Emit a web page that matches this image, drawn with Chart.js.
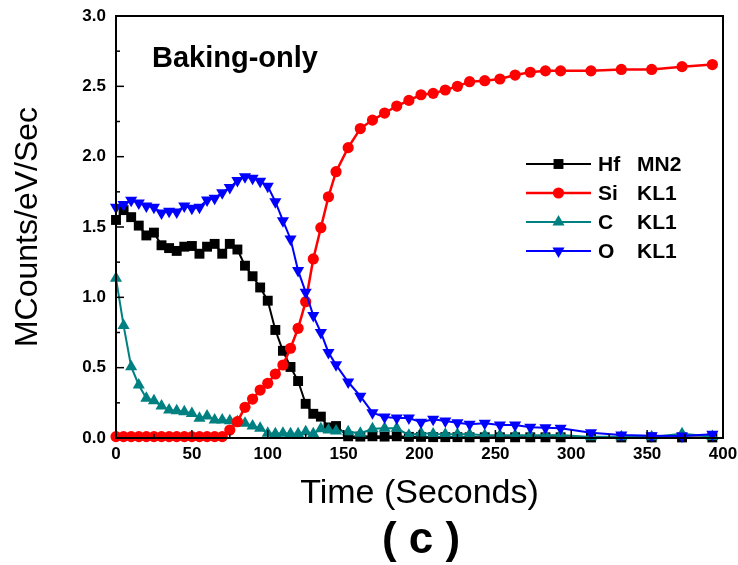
<!DOCTYPE html>
<html>
<head>
<meta charset="utf-8">
<script src="https://cdn.jsdelivr.net/npm/chart.js@4.4.0/dist/chart.umd.min.js"></script>
<style>
  html, body { margin: 0; padding: 0; background: #fff; }
</style>
</head>
<body>
<canvas id="perfil" width="738" height="565"></canvas>
<script>
// tempo de sputtering (s)
const timeSec = [0, 5, 10, 15, 20, 25, 30, 35, 40, 45, 50, 55, 60, 65, 70, 75, 80, 85, 90, 95,
  100, 105, 110, 115, 120, 125, 130, 135, 140, 145, 153, 161, 169, 177, 185, 193, 201, 209, 217, 225,
  233, 243, 253, 263, 273, 283, 293, 313, 333, 353, 373, 393];

const hfMN2 = [1.55, 1.62, 1.57, 1.51, 1.44, 1.46, 1.37, 1.35, 1.33, 1.36, 1.365, 1.31, 1.36, 1.38, 1.31, 1.38, 1.34, 1.225, 1.15, 1.07,
  0.976, 0.768, 0.62, 0.505, 0.405, 0.243, 0.172, 0.152, 0.075, 0.085, 0.012, 0.01, 0.012, 0.01, 0.012, 0.008, 0.008, 0.006, 0.006, 0.006,
  0.005, 0.005, 0.005, 0.005, 0.005, 0.005, 0.005, 0.004, 0.004, 0.004, 0.004, 0.004];

const siKL1 = [0.01, 0.01, 0.01, 0.01, 0.01, 0.01, 0.01, 0.01, 0.01, 0.01, 0.01, 0.01, 0.01, 0.01, 0.01, 0.057, 0.116, 0.218, 0.277, 0.341,
  0.389, 0.455, 0.519, 0.638, 0.78, 0.969, 1.273, 1.495, 1.715, 1.893, 2.064, 2.20, 2.26, 2.31, 2.36, 2.40, 2.44, 2.45, 2.474, 2.50,
  2.533, 2.54, 2.552, 2.58, 2.60, 2.61, 2.61, 2.61, 2.62, 2.62, 2.64, 2.655];

const cKL1 = [1.135, 0.80, 0.507, 0.377, 0.282, 0.265, 0.227, 0.199, 0.194, 0.187, 0.175, 0.14, 0.156, 0.128, 0.128, 0.123, 0.116, 0.104, 0.085, 0.069,
  0.033, 0.03, 0.033, 0.03, 0.03, 0.045, 0.03, 0.065, 0.057, 0.05, 0.045, 0.033, 0.065, 0.069, 0.069, 0.02, 0.035, 0.028, 0.026, 0.026,
  0.026, 0.02, 0.02, 0.02, 0.02, 0.02, 0.022, 0.008, 0.008, 0.008, 0.03, 0.01];

const oKL1 = [1.64, 1.66, 1.69, 1.67, 1.65, 1.64, 1.60, 1.612, 1.607, 1.65, 1.633, 1.64, 1.692, 1.704, 1.744, 1.78, 1.83, 1.858, 1.846, 1.826,
  1.79, 1.68, 1.545, 1.415, 1.19, 1.037, 0.87, 0.75, 0.608, 0.52, 0.398, 0.297, 0.18, 0.149, 0.142, 0.142, 0.112, 0.133, 0.121, 0.109,
  0.097, 0.104, 0.092, 0.092, 0.076, 0.073, 0.069, 0.038, 0.021, 0.016, 0.014, 0.026];

const serieLabels = ['Hf  MN2', 'Si  KL1', 'C   KL1', 'O   KL1'];
const xRange = [0, 400];
const yRange = [0, 3];

const FONTE = "Arial, 'Liberation Sans', sans-serif";
Chart.defaults.font.family = FONTE;
Chart.defaults.color = '#000';

const pontos = (serie) => timeSec.map((t, i) => ({ x: t, y: serie[i] }));

function serie(label, dados, cor, estilo, raio, rot, ordem, largura) {
    return {
        label: label,
        data: pontos(dados),
        borderColor: cor,
        backgroundColor: cor,
        borderWidth: largura,
        pointStyle: estilo,
        pointRotation: rot,
        pointRadius: raio,
        pointHoverRadius: raio,
        pointBorderWidth: 0,
        tension: 0,
        clip: false,
        order: ordem
    };
}

// moldura + ticks para dentro
const moldura = {
    id: 'moldura',
    afterDraw(chart) {
        const { ctx, chartArea: a, scales: { x, y } } = chart;
        const linha = (x1, y1, x2, y2) => { ctx.beginPath(); ctx.moveTo(x1, y1); ctx.lineTo(x2, y2); ctx.stroke(); };
        ctx.save();
        ctx.strokeStyle = '#000';
        ctx.lineWidth = 1.5;
        const xt = x.ticks.map(t => t.value);
        xt.forEach((v, i) => {
            const px = x.getPixelForValue(v);
            linha(px, a.bottom, px, a.bottom - 8);
            if (i < xt.length - 1) {
                const m = x.getPixelForValue((v + xt[i + 1]) / 2);
                linha(m, a.bottom, m, a.bottom - 4);
            }
        });
        const yt = y.ticks.map(t => t.value);
        yt.forEach((v, i) => {
            const py = y.getPixelForValue(v);
            linha(a.left, py, a.left + 8, py);
            if (i < yt.length - 1) {
                const m = y.getPixelForValue((v + yt[i + 1]) / 2);
                linha(a.left, m, a.left + 4, m);
            }
        });
        ctx.lineWidth = 2;
        ctx.strokeRect(a.left, a.top, a.right - a.left, a.bottom - a.top);

        // textos
        ctx.fillStyle = '#000';
        ctx.textBaseline = 'alphabetic';
        ctx.textAlign = 'left';
        ctx.font = 'bold 29px ' + FONTE;
        ctx.fillText('Baking-only', 152, 67);
        ctx.textAlign = 'center';
        ctx.font = 'bold 44px ' + FONTE;
        ctx.fillText('( c )', 421, 553);
        ctx.restore();
    }
};

// legenda dentro do grafico
const legendaInterna = {
    id: 'legendaInterna',
    afterDraw(chart) {
        const ctx = chart.ctx;
        const x0 = 526, x1 = 591, y0 = 164, passo = 29;
        ctx.save();
        chart.data.datasets.forEach((ds, i) => {
            const yy = y0 + i * passo;
            ctx.strokeStyle = ds.borderColor;
            ctx.lineWidth = ds.borderWidth;
            ctx.beginPath(); ctx.moveTo(x0, yy); ctx.lineTo(x1, yy); ctx.stroke();
            ctx.fillStyle = ds.backgroundColor;
            Chart.helpers.drawPoint(ctx, { pointStyle: ds.pointStyle, rotation: ds.pointRotation, radius: ds.pointRadius, borderWidth: 0 }, (x0 + x1) / 2, yy);
            const partes = ds.label.split(/\s+/);
            ctx.fillStyle = '#000';
            ctx.font = 'bold 21px ' + FONTE;
            ctx.textBaseline = 'middle';
            ctx.textAlign = 'left';
            ctx.fillText(partes[0], 598, yy + 1);
            ctx.fillText(partes[1], 637, yy + 1);
        });
        ctx.restore();
    }
};

const ctx = document.getElementById('perfil').getContext('2d');
const grafico = new Chart(ctx, {
    type: 'line',
    data: {
        datasets: [
            serie(serieLabels[0], hfMN2, '#000000', 'rect', 7, 0, 3, 2),
            serie(serieLabels[1], siKL1, '#ff0000', 'circle', 5.6, 0, 1, 2.5),
            serie(serieLabels[2], cKL1, '#008080', 'triangle', 7, 0, 2, 2),
            serie(serieLabels[3], oKL1, '#0000ff', 'triangle', 7, 180, 0, 2)
        ]
    },
    options: {
        responsive: false,
        animation: false,
        layout: { padding: { left: 0, right: 15, top: 16, bottom: 0 } },
        plugins: {
            legend: { display: false },
            tooltip: { enabled: false }
        },
        scales: {
            x: {
                type: 'linear',
                min: xRange[0],
                max: xRange[1],
                ticks: { stepSize: 50, font: { size: 17, weight: 'bold' }, padding: 6, maxRotation: 0 },
                grid: { drawOnChartArea: false, drawTicks: false },
                border: { color: '#000', width: 2 },
                title: { display: true, text: 'Time (Seconds)', font: { size: 34 }, padding: { top: 0, bottom: 51 } },
                afterFit(scale) {
                    scale.height = 127;
                    scale.paddingLeft = 0;
                    scale.paddingRight = 0;
                }
            },
            y: {
                min: yRange[0],
                max: yRange[1],
                ticks: { stepSize: 0.5, font: { size: 17, weight: 'bold' }, padding: 10, callback: v => v.toFixed(1) },
                grid: { drawOnChartArea: false, drawTicks: false },
                border: { color: '#000', width: 2 },
                title: { display: true, text: 'MCounts/eV/Sec', font: { size: 32 }, padding: { top: 9, bottom: 0 } },
                afterFit(scale) {
                    scale.width = 116;
                    scale.paddingTop = 0;
                    scale.paddingBottom = 0;
                }
            }
        }
    },
    plugins: [moldura, legendaInterna]
});
</script>
</body>
</html>
